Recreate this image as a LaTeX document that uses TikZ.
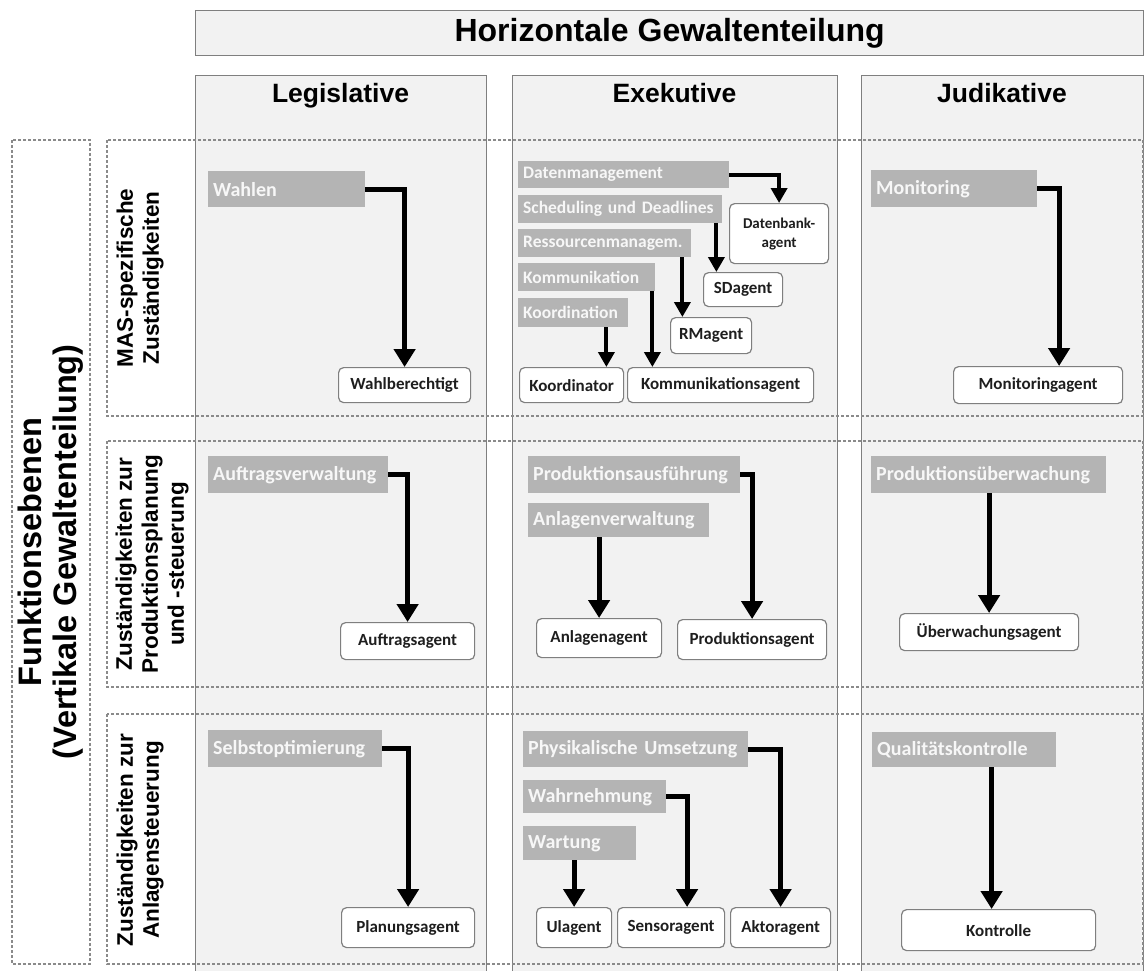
\documentclass[tikz,border=0pt]{standalone}
\usepackage{fontspec}
\setmainfont{Liberation Sans}
\newfontfamily\calib{Carlito}
\usetikzlibrary{arrows.meta,calc}
\definecolor{colfill}{HTML}{F2F2F2}
\definecolor{bord}{HTML}{7F7F7F}
\definecolor{dashc}{HTML}{8A8A8A}
\definecolor{barfill}{HTML}{B4B4B4}
\definecolor{bartext}{HTML}{F7F7F7}
\definecolor{agtext}{HTML}{1E1E1E}
\hyphenpenalty=10000
\exhyphenpenalty=10000
\begin{document}
\begin{tikzpicture}[x=1pt,y=-1pt,
  colbox/.style={draw=bord, line width=1.3pt, fill=colfill, anchor=north west, inner sep=0pt},
  rowbox/.style={draw=dashc, line width=1.2pt, dash pattern=on 3pt off 2pt},
  bar/.style={fill=barfill, text=bartext, font=\calib\bfseries\fontsize{20}{22}\selectfont, anchor=north west, inner xsep=5pt, inner ysep=0pt, text width=#1},
  sbar/.style={bar=#1, font=\calib\bfseries\fontsize{17.5}{19}\selectfont},
  agent/.style={draw=bord, line width=1.2pt, fill=white, rounded corners=5pt, anchor=north west, inner sep=0pt, font=\calib\bfseries\fontsize{17}{18}\selectfont, text=agtext, align=center},
  colhead/.style={font=\bfseries\fontsize{26.5}{28}\selectfont, text=black, anchor=base},
  rowlabel/.style={rotate=90, align=center, font=\bfseries\fontsize{22.5}{26}\selectfont, text=black},
  arr/.style={line width=5pt, line join=miter, -{Triangle[width=21pt,length=18pt]}},
  arrs/.style={line width=4pt, line join=miter, -{Triangle[width=16pt,length=15pt]}}]
\useasboundingbox (0,0) rectangle (1146,970);
\fill[white] (0,0) rectangle (1146,970);

% header
\node[colbox, minimum width=948pt, minimum height=45pt, font=\bfseries\fontsize{32}{34}\selectfont] (hgt) at (195,10) {Horizontale Gewaltenteilung};

% columns
\node[colbox, minimum width=291pt, minimum height=910pt] (legcol) at (195,75) {};
\node[colbox, minimum width=325pt, minimum height=910pt] (execol) at (512,75) {};
\node[colbox, minimum width=282pt, minimum height=910pt] (judcol) at (861,75) {};
\node[colhead] (leghead) at (340.5,102) {Legislative};
\node[colhead] (exehead) at (674.5,102) {Exekutive};
\node[colhead] (judhead) at (1002,102) {Judikative};

% rows
\draw[rowbox] (107,140) rectangle (1143,416);
\draw[rowbox] (107,441) rectangle (1143,687);
\draw[rowbox] (107,714) rectangle (1143,964);
\draw[rowbox] (12,140) rectangle (90,964);

% labels
\node[rotate=90, align=center, font=\bfseries\fontsize{32.5}{35}\selectfont] (fe) at (51,552) {Funktionsebenen\\(Vertikale Gewaltenteilung)};
\node[rowlabel] (r1) at (140,278) {MAS-spezifische\\Zuständigkeiten};
\node[rowlabel] (r2) at (152,564) {Zuständigkeiten zur\\Produktionsplanung\\und -steuerung};
\node[rowlabel] (r3) at (140,840) {Zuständigkeiten zur\\Anlagensteuerung};

% Legislative
\node[bar=147pt, minimum height=36pt] (wahlen) at (208,171) {Wahlen};
\node[bar=170pt, minimum height=37pt] (auftv) at (208,456) {Auftragsverwaltung};
\node[bar=164pt, minimum height=37pt] (selbst) at (208,730) {Selbstoptimierung};
\node[agent, minimum width=132pt, minimum height=35pt] (wahlb) at (338,367) {Wahlberechtigt};
\node[agent, minimum width=134pt, minimum height=37pt] (auftag) at (340,622) {Auftragsagent};
\node[agent, minimum width=133pt, minimum height=40pt] (plan) at (341,907) {Planungsagent};

% Exekutive row 1
\node[sbar=201pt, minimum height=27pt] (dat) at (518,161) {Datenmanagement};
\node[sbar=194pt, minimum height=28pt] (sched) at (518,195) {Scheduling und Deadlines};
\node[sbar=163pt, minimum height=28pt] (ress) at (518,229) {Ressourcenmanagem.};
\node[sbar=127pt, minimum height=28pt] (komm) at (518,263) {Kommunikation};
\node[sbar=100pt, minimum height=29pt] (koord) at (518,298) {Koordination};
\node[agent, minimum width=99pt, minimum height=60pt, font=\calib\bfseries\fontsize{15}{19}\selectfont] (dbag) at (729,203) {Datenbank-\\agent};
\node[agent, minimum width=79pt, minimum height=34pt] (sdag) at (703,272) {SDagent};
\node[agent, minimum width=81pt, minimum height=36pt] (rmag) at (670,317) {RMagent};
\node[agent, minimum width=104pt, minimum height=35pt] (koordag) at (519,367) {Koordinator};
\node[agent, minimum width=186pt, minimum height=35pt] (kommag) at (627,367) {Kommunikationsagent};

% Exekutive row 2
\node[bar=202pt, minimum height=37pt] (prodaus) at (528,456) {Produktionsausführung};
\node[bar=171pt, minimum height=34pt] (anlv) at (528,503) {Anlagenverwaltung};
\node[agent, minimum width=125pt, minimum height=39pt] (anlag) at (536,618) {Anlagenagent};
\node[agent, minimum width=149pt, minimum height=40pt] (prodag) at (677,619) {Produktionsagent};

% Exekutive row 3
\node[bar=215pt, minimum height=36pt] (phys) at (523,731) {Physikalische Umsetzung};
\node[bar=133pt, minimum height=33pt] (wahrn) at (523,780) {Wahrnehmung};
\node[bar=103pt, minimum height=34pt] (wart) at (523,826) {Wartung};
\node[agent, minimum width=75pt, minimum height=40pt] (ulag) at (536,907) {Ulagent};
\node[agent, minimum width=107pt, minimum height=40pt] (sensag) at (617,907) {Sensoragent};
\node[agent, minimum width=100pt, minimum height=40pt] (aktag) at (730,907) {Aktoragent};

% Judikative
\node[bar=156pt, minimum height=37pt] (mon) at (871,170) {Monitoring};
\node[agent, minimum width=169pt, minimum height=37pt] (monag) at (953,366) {Monitoringagent};
\node[bar=225pt, minimum height=37pt] (produeb) at (871,456) {Produktionsüberwachung};
\node[agent, minimum width=179pt, minimum height=37pt] (uebag) at (899,613) {Überwachungsagent};
\node[bar=174pt, minimum height=35pt] (qual) at (872,732) {Qualitätskontrolle};
\node[agent, minimum width=194pt, minimum height=41pt] (kontr) at (901,909) {Kontrolle};

% arrows
\draw[arr] (wahlen.east) -| (wahlb.north);
\draw[arr] (auftv.east) -| (auftag.north);
\draw[arr] (selbst.east) -| (plan.north);

\draw[arrs] (dat.east) -| (dbag.north);
\coordinate (s1) at ([xshift=-6pt]sched.south east);
\draw[arrs] (s1) -- (s1 |- sdag.north);
\coordinate (s2) at ([xshift=-9pt]ress.south east);
\draw[arrs] (s2) -- (s2 |- rmag.north);
\coordinate (s3) at ([xshift=-3pt]komm.south east);
\draw[arrs] (s3) -- (s3 |- kommag.north);
\coordinate (s4) at ([xshift=-22pt]koord.south east);
\draw[arrs] (s4) -- (s4 |- koordag.north);

\draw[arr] (prodaus.east) -| (prodag.north);
\draw[arr] (anlv.south -| anlag.north) -- (anlag.north);

\draw[arr] (phys.east) -| (aktag.north);
\coordinate (sn) at ([xshift=16pt]sensag.north);
\draw[arr] (wahrn.east) -| (sn);
\draw[arr] (wart.south -| ulag.north) -- (ulag.north);

\coordinate (mn) at ([xshift=21pt]monag.north);
\draw[arr] (mon.east) -| (mn);
\draw[arr] (produeb.south -| uebag.north) -- (uebag.north);
\coordinate (kn) at ([xshift=-7pt]kontr.north);
\draw[arr] (qual.south -| kn) -- (kn);
\end{tikzpicture}
\end{document}
